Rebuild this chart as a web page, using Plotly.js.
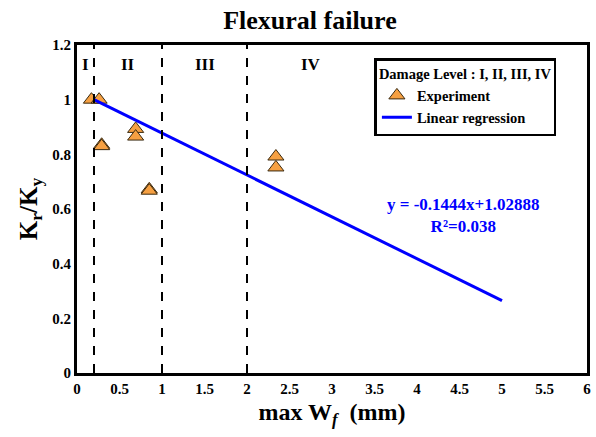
<!DOCTYPE html>
<html><head><meta charset="utf-8">
<script src="https://cdn.plot.ly/plotly-3.0.1.min.js"></script>
<style>html,body{margin:0;padding:0;background:#fff}#chart{width:596px;height:437px}</style>
</head><body><div id="chart"></div>
<script>
const expX = [0.17, 0.26, 0.29, 0.29, 0.69, 0.69, 0.85, 0.85, 2.34, 2.34];
const expY = [1.0, 1.0, 0.835, 0.83, 0.893, 0.865, 0.672, 0.667, 0.792, 0.752];
const regX = [0.2, 5.0];
const regY = [1.0, 0.265];
const levelBounds = [0.2, 1, 2];
const levelLabels = ['I', 'II', 'III', 'IV'];
const levelLabelX = [0.1, 0.6, 1.5, 2.75];
const xTicks = [0,0.5,1,1.5,2,2.5,3,3.5,4,4.5,5,5.5,6];
const xTickText = ['0','0.5','1','1.5','2','2.5','3','3.5','4','4.5','5','5.5','6'];
const yTicks = [0,0.2,0.4,0.6,0.8,1,1.2];
const yTickText = ['0','0.2','0.4','0.6','0.8','1','1.2'];

const font = 'Liberation Serif, Times New Roman, serif';
const bold = a => a.map(t => '<b>' + t + '</b>');

const traces = [
  {x: expX, y: expY, mode: 'markers', type: 'scatter', name: '<b>Experiment</b>',
   marker: {symbol: 'triangle-up', size: 14, color: '#F6A042', line: {color: '#3a2a10', width: 1}}},
  {x: regX, y: regY, mode: 'lines', type: 'scatter', name: '<b>Linear regression</b>',
   line: {color: '#0000FF', width: 3}}
];

const shapes = levelBounds.map(v => ({type: 'line', xref: 'x', yref: 'paper', x0: v, x1: v, y0: 0, y1: 1,
  line: {color: '#000', width: 2, dash: 'dash'}}));

const annotations = levelLabels.map((t, i) => ({x: levelLabelX[i], y: 1.13, xref: 'x', yref: 'y',
  text: '<b>' + t + '</b>', showarrow: false, font: {family: font, size: 17, color: '#000'}}));
annotations.push({x: 4.55, y: 0.575, xref: 'x', yref: 'y', showarrow: false,
  text: '<b>y = -0.1444x+1.02888</b><br><b>R²=0.038</b>', align: 'center',
  font: {family: font, size: 17, color: '#0000FF'}});

const layout = {
  width: 596, height: 437,
  margin: {l: 77, r: 9, t: 45, b: 64},
  paper_bgcolor: '#fff', plot_bgcolor: '#fff',
  font: {family: font, color: '#000'},
  title: {text: '<b>Flexural failure</b>', x: 0.52, xanchor: 'center', yref: 'container', y: 0.955, yanchor: 'middle',
    font: {family: font, size: 26, color: '#000'}},
  xaxis: {range: [0, 6], tickvals: xTicks, ticktext: bold(xTickText), showgrid: false, zeroline: false,
    showline: true, mirror: true, linecolor: '#000', linewidth: 3, ticks: '',
    tickfont: {family: font, size: 15, color: '#000'},
    title: {text: '<b>max W<sub><i>f</i></sub>  (mm)</b>', font: {family: font, size: 24, color: '#000'}, standoff: 8}},
  yaxis: {range: [0, 1.2], tickvals: yTicks, ticktext: bold(yTickText), showgrid: false, zeroline: false,
    showline: true, mirror: true, linecolor: '#000', linewidth: 3, ticks: '',
    tickfont: {family: font, size: 15, color: '#000'},
    title: {text: '<b>K<sub>r</sub>/K<sub>y</sub></b>', font: {family: font, size: 25, color: '#000'}, standoff: 8}},
  legend: {x: 0.94, xanchor: 'right', y: 0.96, yanchor: 'top', bgcolor: '#fff',
    bordercolor: '#000', borderwidth: 2.5,
    title: {text: '<b>Damage Level : I, II, III, IV</b>', side: 'top', font: {family: font, size: 14.5, color: '#000'}},
    font: {family: font, size: 14.5, color: '#000'}, tracegroupgap: 0},
  shapes: shapes,
  annotations: annotations,
  showlegend: true
};

Plotly.newPlot('chart', traces, layout, {displayModeBar: false});
</script></body></html>
